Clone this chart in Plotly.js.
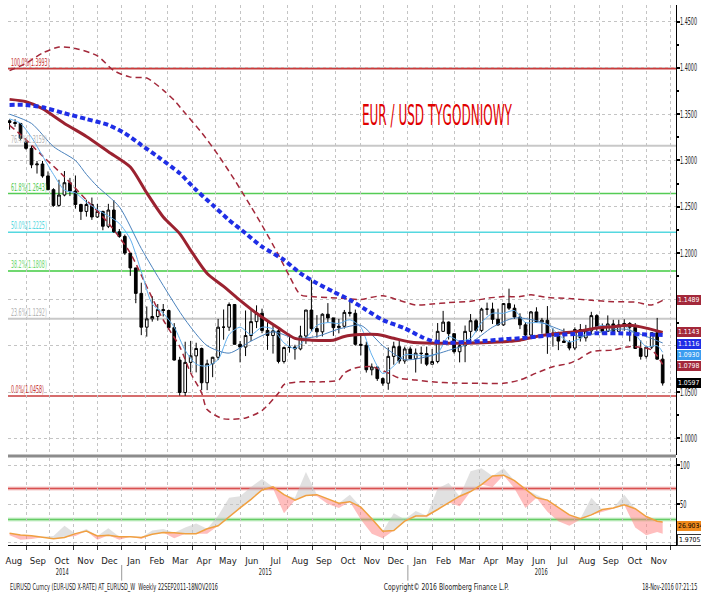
<!DOCTYPE html>
<html>
<head>
<meta charset="utf-8">
<script src="https://cdn.plot.ly/plotly-3.0.1.min.js"></script>
<style>html,body{margin:0;padding:0;background:#fff;}#chart{width:701px;height:594px;}</style>
</head>
<body>
<div id="chart"></div>
<script>
// ---------- DATA ----------
const firstWeek = '2014-08-11';
const open = [1.3428,1.3410,1.3400,1.3200,1.3131,1.2953,1.2962,1.2833,1.2685,1.2515,
1.2627,1.2760,1.2670,1.2525,1.2450,1.2525,1.2390,1.2450,1.2290,1.2465,
1.2230,1.2180,1.2000,1.1840,1.1565,1.1200,1.1290,1.1315,1.1390,1.1380,
1.1195,1.0845,1.0495,1.0820,1.0890,1.0970,1.0600,1.0805,1.0875,1.1200,
1.1200,1.1445,1.1015,1.0985,1.1110,1.1260,1.1350,1.1165,1.1110,1.1160,
1.0830,1.0980,1.0985,1.0965,1.1105,1.1385,1.1185,1.1150,1.1340,1.1300,
1.1195,1.1210,1.1360,1.1350,1.1015,1.1005,1.0740,1.0770,1.0645,1.0595,
1.0885,1.0990,1.0835,1.0965,1.0860,1.0920,1.0915,1.0800,1.0830,1.1155,
1.1255,1.1130,1.0935,1.1000,1.1155,1.1270,1.1165,1.1395,1.1395,1.1285,
1.1225,1.1455,1.1405,1.1310,1.1225,1.1115,1.1365,1.1255,1.1275,1.1115,
1.1135,1.1050,1.1035,1.0975,1.1175,1.1085,1.1160,1.1325,1.1200,1.1155,
1.1235,1.1155,1.1225,1.1240,1.1200,1.0970,1.0885,1.0985,1.1140,1.0855];
const high = [1.3444,1.3445,1.3403,1.3220,1.3160,1.2995,1.2995,1.2882,1.2700,1.2792,
1.2886,1.2812,1.2838,1.2533,1.2577,1.2600,1.2530,1.2457,1.2532,1.2572,
1.2260,1.2200,1.2000,1.1840,1.1680,1.1424,1.1534,1.1450,1.1450,1.1390,
1.1244,1.0880,1.1043,1.1052,1.1032,1.0980,1.0850,1.0880,1.1290,1.1391,
1.1467,1.1445,1.1050,1.1380,1.1385,1.1436,1.1400,1.1278,1.1215,1.1200,
1.0990,1.1128,1.1010,1.1215,1.1387,1.1714,1.1330,1.1350,1.1460,1.1300,
1.1290,1.1386,1.1495,1.1390,1.1105,1.1043,1.0808,1.0780,1.0657,1.0981,
1.1043,1.1060,1.0990,1.0990,1.0970,1.0990,1.0990,1.0965,1.1245,1.1376,
1.1262,1.1130,1.1045,1.1218,1.1342,1.1290,1.1410,1.1465,1.1465,1.1400,
1.1460,1.1616,1.1445,1.1350,1.1255,1.1375,1.1415,1.1300,1.1428,1.1188,
1.1150,1.1185,1.1060,1.1198,1.1234,1.1225,1.1366,1.1340,1.1240,1.1327,
1.1280,1.1280,1.1285,1.1255,1.1245,1.1060,1.0990,1.1145,1.1300,1.0905];
const low = [1.3333,1.3364,1.3219,1.3117,1.2917,1.2859,1.2814,1.2679,1.2500,1.2501,
1.2613,1.2616,1.2480,1.2358,1.2394,1.2359,1.2380,1.2247,1.2270,1.2218,
1.2165,1.1980,1.1754,1.1459,1.1114,1.1098,1.1260,1.1270,1.1315,1.1175,
1.0840,1.0462,1.0458,1.0713,1.0712,1.0520,1.0520,1.0660,1.0845,1.1065,
1.1160,1.1015,1.0820,1.0888,1.1050,1.1190,1.1135,1.0955,1.0915,1.0809,
1.0808,1.0925,1.0850,1.0950,1.1020,1.1155,1.1087,1.1100,1.1250,1.1106,
1.1133,1.1185,1.1315,1.1000,1.0896,1.0710,1.0680,1.0620,1.0568,1.0524,
1.0795,1.0806,1.0805,1.0860,1.0710,1.0805,1.0780,1.0800,1.0810,1.1150,
1.1067,1.0915,1.0820,1.0822,1.1055,1.1145,1.1145,1.1330,1.1235,1.1215,
1.1215,1.1385,1.1290,1.1180,1.1095,1.1095,1.1250,1.1130,1.0912,1.0990,
1.0952,1.1030,1.0950,1.0952,1.1045,1.1045,1.1125,1.1160,1.1120,1.1150,
1.1120,1.1150,1.1160,1.1047,1.0965,1.0850,1.0860,1.0965,1.0850,1.0569];
const close = [1.3410,1.3400,1.3240,1.3131,1.2953,1.2962,1.2833,1.2685,1.2515,1.2627,
1.2760,1.2670,1.2525,1.2450,1.2525,1.2390,1.2450,1.2290,1.2465,1.2230,
1.2180,1.2000,1.1840,1.1565,1.1200,1.1290,1.1315,1.1390,1.1380,1.1195,
1.0845,1.0495,1.0820,1.0890,1.0970,1.0600,1.0805,1.0875,1.1200,1.1200,
1.1445,1.1015,1.0985,1.1110,1.1260,1.1350,1.1165,1.1110,1.1160,1.0830,
1.0980,1.0985,1.0965,1.1105,1.1385,1.1185,1.1150,1.1340,1.1300,1.1195,
1.1210,1.1360,1.1350,1.1015,1.1005,1.0740,1.0770,1.0645,1.0595,1.0885,
1.0990,1.0835,1.0965,1.0860,1.0920,1.0915,1.0800,1.0830,1.1155,1.1255,
1.1130,1.0935,1.1000,1.1155,1.1270,1.1165,1.1395,1.1395,1.1285,1.1225,
1.1455,1.1405,1.1310,1.1225,1.1115,1.1365,1.1255,1.1275,1.1115,1.1135,
1.1050,1.1035,1.0975,1.1175,1.1085,1.1160,1.1325,1.1200,1.1155,1.1235,
1.1155,1.1225,1.1240,1.1200,1.0970,1.0885,1.0985,1.1140,1.0855,1.0597];

// Bollinger middle (dark red solid)
const bbMidWeek = [0,3,6,10,14,18,22,25,28,31,33,36,39,42,45,49,52,55,59,61,64,67,70,73,77,81,85,89,93,96,99,103,107,110,113,116,119];
const bbMidVal  = [1.366,1.3635,1.356,1.340,1.326,1.3095,1.293,1.265,1.239,1.221,1.203,1.178,1.164,1.149,1.135,1.119,1.108,1.106,1.106,1.110,1.112,1.112,1.108,1.104,1.1026,1.1026,1.103,1.104,1.106,1.110,1.1126,1.115,1.119,1.1205,1.122,1.119,1.1143];
// Bollinger upper (dashed)
const bbUpWeek = [0,3,6,9,12,16,19,22,25,28,30,32,35,38,41,44,46,49,51,53,55,58,61,64,68,71,74,77,80,84,87,90,93,95,98,102,106,110,114,117,119];
const bbUpVal  = [1.397,1.405,1.416,1.4225,1.421,1.413,1.397,1.390,1.389,1.376,1.365,1.351,1.330,1.306,1.279,1.250,1.230,1.198,1.175,1.155,1.153,1.152,1.151,1.150,1.154,1.149,1.144,1.145,1.1465,1.148,1.1512,1.153,1.153,1.155,1.152,1.151,1.149,1.1475,1.147,1.144,1.1489];
// Bollinger lower (dashed)
const bbLoWeek = [0,2,6,10,14,18,22,25,28,31,33,35,36,39,43,46,49,50,53,57,60,61,63,66,69,71,74,77,81,86,90,93,96,99,102,104,106,110,113,117,119];
const bbLoVal  = [1.338,1.328,1.305,1.2825,1.2573,1.2325,1.200,1.1637,1.1278,1.099,1.0705,1.049,1.031,1.021,1.022,1.030,1.049,1.058,1.061,1.061,1.063,1.0705,1.076,1.0773,1.0705,1.065,1.063,1.061,1.0597,1.0594,1.0594,1.063,1.0705,1.0773,1.081,1.0864,1.0935,1.0954,1.099,1.0954,1.0798];
// long moving average (blue dotted)
const maLongWeek = [0,3,6,10,14,18,21,24,27,31,34,37,40,43,46,50,53,56,59,62,65,68,72,75,77,80,83,87,90,93,96,99,103,107,111,115,119];
const maLongVal  = [1.360,1.360,1.3574,1.351,1.3448,1.3383,1.3294,1.3167,1.3041,1.2862,1.2681,1.2519,1.2357,1.2214,1.2069,1.1926,1.1782,1.1674,1.1583,1.1494,1.1386,1.1278,1.1188,1.1097,1.1051,1.1032,1.104,1.1054,1.1069,1.108,1.1097,1.1116,1.1126,1.1134,1.1134,1.1123,1.1116];
// medium moving average (steel blue)
const maMidWeek = [0,4,8,12,14,16,20,24,28,32,36,40,44,48,52,56,60,64,68,72,76,80,84,88,92,96,100,104,108,112,116,119];
const maMidVal  = [1.350,1.340,1.315,1.300,1.285,1.272,1.250,1.205,1.165,1.128,1.100,1.092,1.105,1.115,1.108,1.110,1.118,1.122,1.100,1.085,1.088,1.095,1.103,1.120,1.130,1.127,1.118,1.110,1.115,1.118,1.110,1.103];
// short moving average (light blue)
const maShortWeek = [0,2,4,6,8,10,12,14,16,18,20,22,24,26,28,30,32,34,36,38,40,42,44,46,48,50,52,54,56,58,60,62,64,66,68,70,72,74,76,78,80,82,84,86,88,90,92,94,96,98,100,102,104,106,108,110,112,114,116,118,119];
const maShortVal  = [1.345,1.340,1.325,1.305,1.285,1.268,1.265,1.255,1.247,1.240,1.232,1.215,1.180,1.145,1.135,1.120,1.095,1.080,1.078,1.085,1.112,1.120,1.112,1.120,1.118,1.103,1.097,1.108,1.122,1.125,1.124,1.128,1.120,1.090,1.070,1.078,1.090,1.090,1.089,1.092,1.110,1.105,1.108,1.125,1.135,1.135,1.138,1.125,1.125,1.123,1.112,1.104,1.108,1.118,1.122,1.119,1.121,1.112,1.099,1.100,1.093];

// Fibonacci retracement levels
const fibPct = ['100.0%','76.4%','61.8%','50.0%','38.2%','23.6%','0.0%'];
const fibVal = [1.3993,1.3159,1.2643,1.2225,1.1808,1.1292,1.0458];

// price axis labels visible in the picture (1.1000 and 1.1500 are hidden behind value boxes)
const priceLabels = ['1.0000','1.0500','1.2000','1.2500','1.3000','1.3500','1.4000','1.4500'];
const oscLabels = ['50','100'];

// Oscillator (lower panel)
const oscWeek = [0,2,4,6,8,10,12,14,16,18,20,22,24,26,28,30,32,34,36,38,40,42,44,46,48,50,52,54,56,58,60,62,64,66,68,70,72,74,76,78,80,82,84,86,88,90,92,94,96,98,100,102,104,106,108,110,112,114,116,118,119];
const oscSlow = [12.4,10.3,9.2,7.2,5.5,7,12,15.3,9,9.8,8,8,7,11.3,13.3,13,12,12,18.2,22,34,45,56,68,72,62,55,61,62,56,51,53,46,31,15,16,28,34.5,35,43,52,60,66,75,86,87,80,69,58,55,46,36,31,36,43,45,49,44,34,28,26.9034];
const oscFast = [10,4,5,8,9,22,9,18,4,19,4,9,5,16,18,6,20,25,12,35,58,60,72,82,70,38,58,91,60,50,45,62,30,12,6,38,30,41,33,70,77,47,92,96,72,96,70,45,62,40,28,22,30,58,40,44,62,20,10,14,11.9705];
const oscLevels = [70,30];

// ---------- STYLE ----------
const FONT = "'Liberation Sans Narrow','DejaVu Sans Condensed','Arial Narrow',sans-serif";
const fibColors = ['#c83c3c','#c8c8c8','#55cc55','#55d8e0','#70d870','#c8c8c8','#c83c3c'];
const fibWidths = [2,2,1.5,1.5,2,2,1.5];

const DAY = 864e5, base = Date.parse(firstWeek + 'T00:00:00Z');
const wd = i => new Date(base + i * 7 * DAY).toISOString().slice(0, 10);
const dates = open.map((_, i) => wd(i));
const toDates = arr => arr.map(wd);

const line = (wk, val, color, width, dash, yaxis) => ({
  type: 'scatter', mode: 'lines', x: toDates(wk), y: val, yaxis: yaxis || 'y',
  line: {color, width, dash: dash || 'solid', shape: 'spline', smoothing: 0.7},
  hoverinfo: 'skip', showlegend: false
});

const oscD = toDates(oscWeek);
const oscHi = oscFast.map((v, i) => Math.max(v, oscSlow[i]));
const oscLo = oscFast.map((v, i) => Math.min(v, oscSlow[i]));
const flat = (y, fill, fc) => ({type:'scatter', mode:'lines', x: oscD, y, yaxis:'y2', line:{width:0, color:'rgba(0,0,0,0)'}, fill: fill||'none', fillcolor: fc, hoverinfo:'skip', showlegend:false});

const traces = [
  {type:'candlestick', x: dates, open, high, low, close, xaxis:'x', yaxis:'y',
   increasing:{line:{color:'#000', width:1}, fillcolor:'#ffffff'},
   decreasing:{line:{color:'#000', width:1}, fillcolor:'#000000'},
   whiskerwidth:0, hoverinfo:'skip', showlegend:false},
  line(bbUpWeek, bbUpVal, '#a3283a', 1.5, '6px,4px'),
  line(bbLoWeek, bbLoVal, '#a3283a', 1.5, '6px,4px'),
  line(maShortWeek, maShortVal, '#62b0ee', 1),
  line(maMidWeek, maMidVal, '#4a82bd', 1),
  line(bbMidWeek, bbMidVal, '#9b2230', 3),
  line(maLongWeek, maLongVal, '#1f2ee6', 4, '5px,3px'),
  flat(oscSlow), flat(oscHi, 'tonexty', 'rgba(195,195,195,0.5)'),
  flat(oscSlow), flat(oscLo, 'tonexty', 'rgba(255,125,125,0.5)'),
  {type:'scatter', mode:'lines', x: oscD, y: oscSlow, yaxis:'y2', line:{color:'#f0a040', width:1.5}, hoverinfo:'skip', showlegend:false}
];

const shapes = [];
fibVal.forEach((v, i) => shapes.push({type:'line', layer:'between', xref:'paper', x0:0, x1:1, yref:'y', y0:v, y1:v, line:{color:fibColors[i], width:fibWidths[i]}}));
shapes.push({type:'line', layer:'between', xref:'paper', x0:0, x1:1, yref:'y2', y0:oscLevels[0], y1:oscLevels[0], line:{color:'rgba(220,80,80,0.3)', width:4}});
shapes.push({type:'line', layer:'between', xref:'paper', x0:0, x1:1, yref:'y2', y0:oscLevels[0], y1:oscLevels[0], line:{color:'#d85050', width:1.5}});
shapes.push({type:'line', layer:'between', xref:'paper', x0:0, x1:1, yref:'y2', y0:oscLevels[1], y1:oscLevels[1], line:{color:'rgba(90,210,90,0.3)', width:4}});
shapes.push({type:'line', layer:'between', xref:'paper', x0:0, x1:1, yref:'y2', y0:oscLevels[1], y1:oscLevels[1], line:{color:'#66cc66', width:1.5}});
shapes.push({type:'line', xref:'paper', x0:0, x1:1, yref:'paper', y0:0.1648, y1:0.1648, line:{color:'#8c8c8c', width:3}});
['2015-01-01','2016-01-01'].forEach(d => shapes.push({type:'line', xref:'x', x0:d, x1:d, yref:'paper', y0:-0.037, y1:-0.066, line:{color:'#999', width:1}}));

// annotations; squeeze map: annotation index -> {w: target width px, o: which edge stays fixed}
const ann = [], sq = {};
const A = (o, w, org) => { if (w) sq[ann.length] = {w, o: org || 'center'}; ann.push(Object.assign({showarrow:false, font:{family:FONT, size:9, color:'#222'}}, o)); };
A({text:'EUR / USD TYGODNIOWY', xref:'paper', yref:'paper', x:0.642, y:0.796, xanchor:'center', yanchor:'middle', font:{family:FONT, size:29, color:'#e00000'}}, 150, 'center');
fibVal.forEach((v, i) => {
  const t = fibPct[i] + '(' + v.toFixed(4) + ')';
  A({text:t, xref:'paper', yref:'y', x:0.003, y:v, xanchor:'left', yanchor:'bottom', borderpad:0, font:{family:FONT, size:10, color: fibColors[i] === '#c8c8c8' ? '#b4b4b4' : fibColors[i]}}, t.length * 2.75, 'left');
});
priceLabels.forEach(t => A({text:t, xref:'paper', yref:'y', x:1.0045, y:parseFloat(t), xanchor:'left', yanchor:'middle', borderpad:0, font:{family:FONT, size:10, color:'#222'}}, 17, 'left'));
oscLabels.forEach(t => A({text:t, xref:'paper', yref:'y2', x:1.0045, y:parseFloat(t), xanchor:'left', yanchor:'middle', borderpad:0, font:{family:FONT, size:10, color:'#222'}}, t.length * 3.2, 'left'));
A({text:'2014', xref:'paper', yref:'paper', x:0.0823, y:-0.05, xanchor:'center', yanchor:'middle'}, 13, 'center');
A({text:'2015', xref:'paper', yref:'paper', x:0.385, y:-0.05, xanchor:'center', yanchor:'middle'}, 13, 'center');
A({text:'2016', xref:'paper', yref:'paper', x:0.798, y:-0.05, xanchor:'center', yanchor:'middle'}, 13, 'center');
A({text:'EURUSD Curncy (EUR-USD X-RATE) AT_EURUSD_W  Weekly 22SEP2011-18NOV2016', xref:'paper', yref:'paper', x:0, y:-0.078, xanchor:'left', yanchor:'middle'}, 208, 'left');
A({text:'Copyright\u00a9 2016 Bloomberg Finance L.P.', xref:'paper', yref:'paper', x:0.657, y:-0.078, xanchor:'center', yanchor:'middle'}, 125, 'center');
A({text:'18-Nov-2016 07:21:15', xref:'paper', yref:'paper', x:1.034, y:-0.078, xanchor:'right', yanchor:'middle'}, 55, 'right');
// value boxes on right
const box = (val, yv, bg, fg, yref, shift, border) => A({text: val, xref:'paper', yref: yref||'y', x:1.0015, y:yv, xanchor:'left', yanchor:'middle', yshift: shift||0, bgcolor:bg, bordercolor: border||bg, borderwidth: border ? 1 : 0, borderpad:1, font:{family:FONT, size:6.8, color:fg}});
box(maLongVal[maLongVal.length-1].toFixed(4), maLongVal[maLongVal.length-1], '#1f2ee6', '#fff', 'y', -9);
box(maShortVal[maShortVal.length-1].toFixed(4), maShortVal[maShortVal.length-1], '#3b9cf0', '#fff', 'y', -3);
box(bbUpVal[bbUpVal.length-1].toFixed(4), bbUpVal[bbUpVal.length-1], '#a3283a', '#fff');
box(bbMidVal[bbMidVal.length-1].toFixed(4), bbMidVal[bbMidVal.length-1], '#a3283a', '#fff');
box(bbLoVal[bbLoVal.length-1].toFixed(4), bbLoVal[bbLoVal.length-1], '#a3283a', '#fff', 'y', -2);
box(close[close.length-1].toFixed(4), close[close.length-1], '#000', '#fff');
box(oscSlow[oscSlow.length-1].toFixed(4), oscSlow[oscSlow.length-1], '#f08a1c', '#000', 'y2', -4);
box(oscFast[oscFast.length-1].toFixed(4).slice(1), oscFast[oscFast.length-1], '#fff', '#000', 'y2', -6, '#333');

const layout = {
  width:701, height:594, margin:{l:8, r:25, t:5, b:49}, paper_bgcolor:'#fff', plot_bgcolor:'#fff',
  showlegend:false, hovermode:false, font:{family:FONT, size:9, color:'#222'},
  xaxis:{type:'date', anchor:'y2', range:['2014-08-09','2016-12-08'], tick0:'2014-08-01', dtick:'M1', tickformat:'%b', ticklabelmode:'period',
    showgrid:true, gridcolor:'#c4c4c4', griddash:'dot', gridwidth:1, ticks:'outside', ticklen:4, tickcolor:'#333', ticklabelstandoff:3,
    showline:true, linecolor:'#000', linewidth:1, tickfont:{family:FONT, size:9.5, color:'#222'}, rangeslider:{visible:false}, zeroline:false, fixedrange:true},
  yaxis:{domain:[0.1667,1], anchor:'x', side:'right', range:[0.982,1.4679], tickmode:'linear', tick0:1.0, dtick:0.05, showticklabels:false,
    showgrid:true, gridcolor:'#c4c4c4', griddash:'dot', ticks:'outside', ticklen:3, tickwidth:2, tickcolor:'#000', showline:true, linecolor:'#000',
    minor:{dtick:0.025, ticks:'outside', ticklen:2, tickcolor:'#000', showgrid:false}, zeroline:false, fixedrange:true},
  yaxis2:{domain:[0,0.161], anchor:'x', side:'right', range:[-2.6,109], tickmode:'array', tickvals:[0,50,100], showticklabels:false,
    showgrid:true, gridcolor:'#c4c4c4', griddash:'dot', ticks:'outside', ticklen:3, tickwidth:2, tickcolor:'#000', showline:true, linecolor:'#000', zeroline:false, fixedrange:true},
  shapes, annotations: ann
};

Plotly.newPlot('chart', traces, layout, {staticPlot:true, displayModeBar:false}).then(() => {
  document.querySelectorAll('g.annotation').forEach(g => {
    const s = sq[+g.getAttribute('data-index')];
    if (!s) return;
    const t = g.querySelector('text.annotation-text');
    if (!t) return;
    const b0 = t.getBBox();
    if (!b0.width || b0.width <= s.w) return;
    t.setAttribute('textLength', s.w.toFixed(1));
    t.setAttribute('lengthAdjust', 'spacingAndGlyphs');
    const b1 = t.getBBox();
    let want;
    if (s.o === 'left') want = b0.x;
    else if (s.o === 'right') want = b0.x + b0.width - b1.width;
    else want = b0.x + (b0.width - b1.width) / 2;
    const d = want - b1.x;
    if (Math.abs(d) > 0.1) t.setAttribute('dx', d.toFixed(2));
    // shrink the (invisible) annotation box to the squeezed text
    const r = g.querySelector('rect.bg');
    if (r) {
      const rw = parseFloat(r.getAttribute('width')), rx = parseFloat(r.getAttribute('x')) || 0;
      const diff = b0.width - b1.width;
      if (isFinite(rw)) {
        r.setAttribute('width', Math.max(1, rw - diff).toFixed(2));
        if (s.o === 'right') r.setAttribute('x', (rx + diff).toFixed(2));
        else if (s.o === 'center') r.setAttribute('x', (rx + diff / 2).toFixed(2));
      }
    }
  });
});
</script>
</body>
</html>
